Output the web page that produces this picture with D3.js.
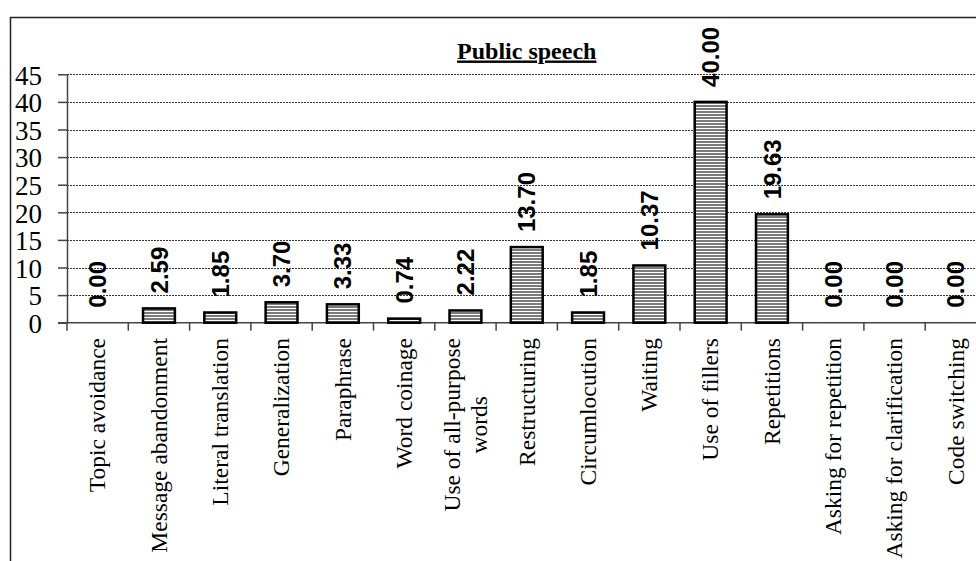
<!DOCTYPE html>
<html>
<head>
<meta charset="utf-8">
<script src="https://cdn.jsdelivr.net/npm/d3@7/dist/d3.min.js"></script>
<style>
  html, body { margin: 0; padding: 0; background: #fff; }
  svg { display: block; }
</style>
</head>
<body>
<svg id="chart" width="976" height="561"></svg>
<script>
const title = "Public speech";
const categories = [
  "Topic avoidance", "Message abandonment", "Literal translation", "Generalization",
  "Paraphrase", "Word coinage", "Use of all-purpose words", "Restructuring",
  "Circumlocution", "Waiting", "Use of fillers", "Repetitions",
  "Asking for repetition", "Asking for clarification", "Code switching"
];
const values = [0.00, 2.59, 1.85, 3.70, 3.33, 0.74, 2.22, 13.70, 1.85, 10.37, 40.00, 19.63, 0.00, 0.00, 0.00];
const yTicks = [0, 5, 10, 15, 20, 25, 30, 35, 40, 45];
// label line breaks (as in the reference)
const labelLines = {"Use of all-purpose words": ["Use of all-purpose", "words"]};

const svg = d3.select("#chart");
const W = 976, H = 561;
const plot = {left: 67, right: 986.5, top: 74.3, bottom: 322.7};

// pattern: horizontal stripes
const defs = svg.append("defs");
const pat = defs.append("pattern").attr("id", "hstripes")
  .attr("patternUnits", "userSpaceOnUse").attr("width", 6).attr("height", 3);
pat.append("rect").attr("width", 6).attr("height", 3).attr("fill", "#fff");
pat.append("rect").attr("y", 0).attr("width", 6).attr("height", 2).attr("fill", "#7a7a7a");

// outer frame (cropped: only top and left visible)
svg.append("path")
  .attr("d", `M10.5,${H} L10.5,17.5 L${W},17.5`)
  .attr("fill", "none").attr("stroke", "#222").attr("stroke-width", 1.5);

const x = d3.scaleBand().domain(categories).range([plot.left, plot.right])
  .paddingInner(0.48).paddingOuter(0.24);
const y = d3.scaleLinear().domain([0, 45]).range([plot.bottom, plot.top]);

// gridlines
svg.append("g").selectAll("line").data(yTicks.filter(d => d > 0)).join("line")
  .attr("x1", plot.left).attr("x2", W)
  .attr("y1", d => Math.round(y(d)) + 0.5).attr("y2", d => Math.round(y(d)) + 0.5)
  .attr("stroke", "#333").attr("stroke-width", 1).attr("stroke-dasharray", "2,1");

// y axis
const yAxis = svg.append("g").attr("transform", `translate(${plot.left},0)`)
  .call(d3.axisLeft(y).tickValues(yTicks).tickSize(9).tickSizeOuter(0).tickPadding(16).tickFormat(d3.format("d")));
yAxis.select(".domain").attr("stroke", "#444").attr("stroke-width", 1.5);
yAxis.selectAll(".tick line").attr("stroke", "#444").attr("stroke-width", 1.5);
yAxis.selectAll(".tick text")
  .attr("font-family", "'Liberation Serif', 'Times New Roman', serif")
  .attr("font-size", 27).attr("fill", "#000").attr("dy", "0.36em");

// x axis line and ticks at band boundaries
svg.append("line").attr("x1", plot.left - 9).attr("x2", W)
  .attr("y1", plot.bottom).attr("y2", plot.bottom)
  .attr("stroke", "#444").attr("stroke-width", 1.5);
const step = x.step();
const bounds = d3.range(categories.length + 1).map(i => plot.left + i * step);
svg.append("g").selectAll("line").data(bounds).join("line")
  .attr("x1", d => d).attr("x2", d => d)
  .attr("y1", plot.bottom).attr("y2", plot.bottom + 8)
  .attr("stroke", "#444").attr("stroke-width", 1.5);

// bars
svg.append("g").selectAll("rect").data(categories).join("rect")
  .attr("x", d => x(d))
  .attr("width", x.bandwidth())
  .attr("y", (d, i) => y(values[i]))
  .attr("height", (d, i) => Math.max(0, plot.bottom - y(values[i])))
  .attr("fill", "url(#hstripes)")
  .attr("stroke", (d, i) => values[i] > 0 ? "#000" : "none")
  .attr("stroke-width", 2.5);

// value labels (rotated)
svg.append("g").selectAll("text").data(categories).join("text")
  .attr("transform", (d, i) => `translate(${x(d) + x.bandwidth() / 2},${y(values[i]) - 15}) rotate(-90)`)
  .attr("text-anchor", "start").attr("dy", "0.36em")
  .attr("font-family", "'Liberation Sans', Arial, sans-serif")
  .attr("font-weight", "bold").attr("font-size", 24).attr("fill", "#000")
  .text((d, i) => values[i].toFixed(2));

// category labels (rotated)
const labelTop = 338;
const lg = svg.append("g");
categories.forEach(c => {
  const lines = labelLines[c] || [c];
  const cx = x(c) + x.bandwidth() / 2;
  const lh = 27;
  const g = lg.append("g");
  const texts = lines.map((ln, k) => g.append("text")
    .attr("font-family", "'Liberation Serif', 'Times New Roman', serif")
    .attr("font-size", 23.5).attr("fill", "#000")
    .attr("text-anchor", "middle").attr("dy", "0.33em")
    .text(ln));
  const maxLen = d3.max(texts, t => t.node().getComputedTextLength());
  texts.forEach((t, k) => {
    const off = (k - (lines.length - 1) / 2) * lh;
    t.attr("transform", `translate(${cx + off},${labelTop + maxLen / 2}) rotate(-90)`);
  });
});

// title
const tx = (plot.left + plot.right) / 2;
svg.append("text").attr("x", tx).attr("y", 58.5)
  .attr("text-anchor", "middle")
  .attr("font-family", "'Liberation Serif', 'Times New Roman', serif")
  .attr("font-weight", "bold").attr("font-size", 24).attr("fill", "#000")
  .attr("text-decoration", "underline")
  .text(title);
</script>
</body>
</html>
